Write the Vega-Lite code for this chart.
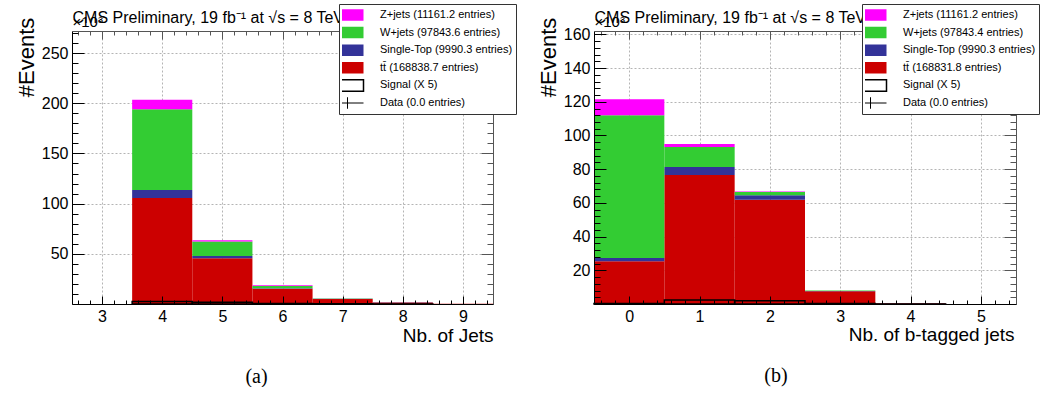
{
  "$schema": "https://vega.github.io/schema/vega-lite/v6.json",
  "background": "white",
  "padding": {"left": 14, "top": 3, "right": 0, "bottom": 0},
  "autosize": {"type": "pad"},
  "config": {
    "font": "Liberation Sans",
    "view": {"stroke": null},
    "axis": {
      "labelFont": "Liberation Sans",
      "titleFont": "Liberation Sans",
      "labelColor": "black",
      "titleColor": "black",
      "tickColor": "black",
      "domainColor": "black",
      "labelFontSize": 16,
      "titleFontWeight": "normal",
      "gridColor": "#b4b4b4",
      "gridDash": [2, 2],
      "labelOverlap": false,
      "labelBound": false,
      "labelFlush": false
    },
    "legend": {
      "orient": "none",
      "title": null,
      "symbolType": "M-1,-0.36H1V0.36H-1Z",
      "symbolSize": 1024,
      "clipHeight": 16,
      "rowPadding": 1.6,
      "labelFont": "Liberation Sans",
      "labelFontSize": 11,
      "labelColor": "black",
      "labelOffset": 27,
      "labelLimit": 300,
      "padding": 3,
      "fillColor": "white",
      "strokeColor": "#333333",
      "symbolStrokeWidth": 0,
      "symbolOpacity": 1
    },
    "title": {"font": "Liberation Serif", "fontSize": 20, "fontWeight": "normal", "color": "black"}
  },
  "datasets": {
    "a_bkg": [
      {"lo": 3.5, "hi": 4.5, "proc": "tt̄ (168838.7 entries)", "ord": 1, "v": 105.5},
      {"lo": 4.5, "hi": 5.5, "proc": "tt̄ (168838.7 entries)", "ord": 1, "v": 45.7},
      {"lo": 5.5, "hi": 6.5, "proc": "tt̄ (168838.7 entries)", "ord": 1, "v": 15.2},
      {"lo": 6.5, "hi": 7.5, "proc": "tt̄ (168838.7 entries)", "ord": 1, "v": 5.0},
      {"lo": 7.5, "hi": 8.5, "proc": "tt̄ (168838.7 entries)", "ord": 1, "v": 1.6},
      {"lo": 8.5, "hi": 9.5, "proc": "tt̄ (168838.7 entries)", "ord": 1, "v": 0.3},
      {"lo": 3.5, "hi": 4.5, "proc": "Single-Top (9990.3 entries)", "ord": 2, "v": 8.0},
      {"lo": 4.5, "hi": 5.5, "proc": "Single-Top (9990.3 entries)", "ord": 2, "v": 2.0},
      {"lo": 5.5, "hi": 6.5, "proc": "Single-Top (9990.3 entries)", "ord": 2, "v": 0.6},
      {"lo": 6.5, "hi": 7.5, "proc": "Single-Top (9990.3 entries)", "ord": 2, "v": 0.2},
      {"lo": 7.5, "hi": 8.5, "proc": "Single-Top (9990.3 entries)", "ord": 2, "v": 0.05},
      {"lo": 3.5, "hi": 4.5, "proc": "W+jets (97843.6 entries)", "ord": 3, "v": 80.5},
      {"lo": 4.5, "hi": 5.5, "proc": "W+jets (97843.6 entries)", "ord": 3, "v": 14.6},
      {"lo": 5.5, "hi": 6.5, "proc": "W+jets (97843.6 entries)", "ord": 3, "v": 2.1},
      {"lo": 6.5, "hi": 7.5, "proc": "W+jets (97843.6 entries)", "ord": 3, "v": 0.3},
      {"lo": 7.5, "hi": 8.5, "proc": "W+jets (97843.6 entries)", "ord": 3, "v": 0.1},
      {"lo": 3.5, "hi": 4.5, "proc": "Z+jets (11161.2 entries)", "ord": 4, "v": 9.5},
      {"lo": 4.5, "hi": 5.5, "proc": "Z+jets (11161.2 entries)", "ord": 4, "v": 1.3},
      {"lo": 5.5, "hi": 6.5, "proc": "Z+jets (11161.2 entries)", "ord": 4, "v": 0.7},
      {"lo": 6.5, "hi": 7.5, "proc": "Z+jets (11161.2 entries)", "ord": 4, "v": 0.1},
      {"lo": 7.5, "hi": 8.5, "proc": "Z+jets (11161.2 entries)", "ord": 4, "v": 0.05}
    ],
    "a_sig": [
      {"lo": 3.5, "hi": 4.5, "sig": 2.5},
      {"lo": 4.5, "hi": 5.5, "sig": 1.7},
      {"lo": 5.5, "hi": 6.5, "sig": 0.6},
      {"lo": 6.5, "hi": 7.5, "sig": 0.2},
      {"lo": 7.5, "hi": 8.5, "sig": 0.05}
    ],
    "b_bkg": [
      {"lo": -0.5, "hi": 0.5, "proc": "tt̄ (168831.8 entries)", "ord": 1, "v": 25.3},
      {"lo": 0.5, "hi": 1.5, "proc": "tt̄ (168831.8 entries)", "ord": 1, "v": 76.6},
      {"lo": 1.5, "hi": 2.5, "proc": "tt̄ (168831.8 entries)", "ord": 1, "v": 61.9},
      {"lo": 2.5, "hi": 3.5, "proc": "tt̄ (168831.8 entries)", "ord": 1, "v": 7.6},
      {"lo": 3.5, "hi": 4.5, "proc": "tt̄ (168831.8 entries)", "ord": 1, "v": 0.5},
      {"lo": -0.5, "hi": 0.5, "proc": "Single-Top (9990.3 entries)", "ord": 2, "v": 2.0},
      {"lo": 0.5, "hi": 1.5, "proc": "Single-Top (9990.3 entries)", "ord": 2, "v": 4.7},
      {"lo": 1.5, "hi": 2.5, "proc": "Single-Top (9990.3 entries)", "ord": 2, "v": 2.6},
      {"lo": 2.5, "hi": 3.5, "proc": "Single-Top (9990.3 entries)", "ord": 2, "v": 0.15},
      {"lo": 3.5, "hi": 4.5, "proc": "Single-Top (9990.3 entries)", "ord": 2, "v": 0.02},
      {"lo": -0.5, "hi": 0.5, "proc": "W+jets (97843.4 entries)", "ord": 3, "v": 84.7},
      {"lo": 0.5, "hi": 1.5, "proc": "W+jets (97843.4 entries)", "ord": 3, "v": 11.9},
      {"lo": 1.5, "hi": 2.5, "proc": "W+jets (97843.4 entries)", "ord": 3, "v": 2.0},
      {"lo": 2.5, "hi": 3.5, "proc": "W+jets (97843.4 entries)", "ord": 3, "v": 0.2},
      {"lo": 3.5, "hi": 4.5, "proc": "W+jets (97843.4 entries)", "ord": 3, "v": 0.03},
      {"lo": -0.5, "hi": 0.5, "proc": "Z+jets (11161.2 entries)", "ord": 4, "v": 9.5},
      {"lo": 0.5, "hi": 1.5, "proc": "Z+jets (11161.2 entries)", "ord": 4, "v": 1.8},
      {"lo": 1.5, "hi": 2.5, "proc": "Z+jets (11161.2 entries)", "ord": 4, "v": 0.3},
      {"lo": 2.5, "hi": 3.5, "proc": "Z+jets (11161.2 entries)", "ord": 4, "v": 0.03}
    ],
    "b_sig": [
      {"lo": -0.5, "hi": 0.5, "sig": 0.3},
      {"lo": 0.5, "hi": 1.5, "sig": 2.4},
      {"lo": 1.5, "hi": 2.5, "sig": 2.0},
      {"lo": 2.5, "hi": 3.5, "sig": 0.3},
      {"lo": 3.5, "hi": 4.5, "sig": 0.05}
    ]
  },
  "bounds": "flush",
  "spacing": 101,
  "resolve": {"scale": {"color": "independent", "x": "independent", "y": "independent"}, "legend": {"color": "independent"}},
  "hconcat": [
    {
      "width": 421,
      "height": 273,
      "title": {"text": "(a)", "orient": "bottom", "anchor": "middle", "frame": "group", "baseline": "top", "offset": 22, "dx": -26},
      "resolve": {"axis": {"x": "independent", "y": "independent"}},
      "layer": [
        {
          "data": {"name": "a_bkg"},
          "transform": [{"stack": "v", "groupby": ["lo"], "sort": [{"field": "ord", "order": "ascending"}], "as": ["y0", "y1"]}],
          "mark": {"type": "bar", "strokeWidth": 0},
          "encoding": {
            "x": {
              "field": "lo", "type": "quantitative",
              "scale": {"domain": [2.5, 9.5], "nice": false, "zero": false},
              "axis": {
                "orient": "bottom",
                "values": [2.6, 2.8, 3, 3.2, 3.4, 3.6, 3.8, 4, 4.2, 4.4, 4.6, 4.8, 5, 5.2, 5.4, 5.6, 5.8, 6, 6.2, 6.4, 6.6, 6.8, 7, 7.2, 7.4, 7.6, 7.8, 8, 8.2, 8.4, 8.6, 8.8, 9, 9.2, 9.4],
                "labelExpr": "abs(datum.value - round(datum.value)) < 0.01 ? format(datum.value, 'd') : ''",
                "tickSize": {"condition": {"test": "abs(datum.value - round(datum.value)) < 0.01", "value": -8}, "value": -4},
                "labelPadding": 12,
                "grid": false,
                "domain": true,
                "title": "Nb. of Jets",
                "titleFontSize": 19,
                "titleX": 421,
                "titleY": 37,
                "titleAlign": "right",
                "titleBaseline": "alphabetic",
                "zindex": 1
              }
            },
            "x2": {"field": "hi"},
            "y": {
              "field": "y0", "type": "quantitative",
              "scale": {"domain": [0, 272], "nice": false, "zero": true},
              "axis": {
                "orient": "left",
                "values": [0, 10, 20, 30, 40, 50, 60, 70, 80, 90, 100, 110, 120, 130, 140, 150, 160, 170, 180, 190, 200, 210, 220, 230, 240, 250, 260, 270],
                "labelExpr": "datum.value % 50 === 0 && datum.value > 0 ? datum.label : ''",
                "tickSize": {"condition": {"test": "datum.value % 50 === 0", "value": -12}, "value": -6},
                "labelPadding": 16,
                "grid": false,
                "domain": true,
                "title": "#Events",
                "titleFontSize": 22,
                "titleX": -39,
                "titleY": 26,
                "titleAngle": -90,
                "titleAlign": "center",
                "titleBaseline": "alphabetic",
                "zindex": 1
              }
            },
            "y2": {"field": "y1"},
            "color": {
              "field": "proc", "type": "nominal",
              "scale": {
                "domain": ["Z+jets (11161.2 entries)", "W+jets (97843.6 entries)", "Single-Top (9990.3 entries)", "tt̄ (168838.7 entries)", "Signal (X 5)", "Data (0.0 entries)"],
                "range": ["#ff00ff", "#33cc33", "#333399", "#cc0000", "#ffffff", "#000000"]
              },
              "legend": {
                "legendX": 267,
                "legendY": -27,
                "encode": {
                  "symbols": {
                    "update": {
                      "shape": {"signal": "datum.value === 'Data (0.0 entries)' ? 'M-1,0H1M0,-0.36V0.36' : 'M-1,-0.36H1V0.36H-1Z'"},
                      "stroke": {"signal": "datum.value === 'Data (0.0 entries)' || datum.value === 'Signal (X 5)' ? 'black' : 'transparent'"},
                      "strokeWidth": {"signal": "datum.value === 'Signal (X 5)' ? 1.5 : 1"}
                    }
                  }
                }
              }
            }
          }
        },
        {
          "data": {"name": "a_sig"},
          "mark": {"type": "bar", "filled": false, "stroke": "black", "strokeWidth": 1.5},
          "encoding": {
            "x": {
              "field": "lo", "type": "quantitative",
              "scale": {"domain": [2.5, 9.5], "nice": false, "zero": false},
              "axis": {
                "orient": "top",
                "values": [2.6, 2.8, 3, 3.2, 3.4, 3.6, 3.8, 4, 4.2, 4.4, 4.6, 4.8, 5, 5.2, 5.4, 5.6, 5.8, 6, 6.2, 6.4, 6.6, 6.8, 7, 7.2, 7.4, 7.6, 7.8, 8, 8.2, 8.4, 8.6, 8.8, 9, 9.2, 9.4],
                "labels": false,
                "tickSize": {"condition": {"test": "abs(datum.value - round(datum.value)) < 0.01", "value": -8}, "value": -4},
                "tickColor": "#555555",
                "grid": true,
                "gridOpacity": {"condition": {"test": "abs(datum.value - round(datum.value)) < 0.01", "value": 1}, "value": 0},
                "domain": true,
                "domainColor": "#555555",
                "title": "CMS Preliminary, 19 fb⁻¹ at √s = 8 TeV",
                "titleFontSize": 16,
                "titleX": 0,
                "titleY": -9,
                "titleAlign": "left",
                "titleBaseline": "alphabetic",
                "zindex": 0
              }
            },
            "x2": {"field": "hi"},
            "y": {
              "field": "sig", "type": "quantitative",
              "scale": {"domain": [0, 272], "nice": false, "zero": true},
              "axis": {
                "orient": "right",
                "values": [0, 10, 20, 30, 40, 50, 60, 70, 80, 90, 100, 110, 120, 130, 140, 150, 160, 170, 180, 190, 200, 210, 220, 230, 240, 250, 260, 270],
                "labels": false,
                "tickSize": {"condition": {"test": "datum.value % 50 === 0", "value": -12}, "value": -6},
                "tickColor": "#555555",
                "grid": true,
                "gridOpacity": {"condition": {"test": "datum.value % 50 === 0 && datum.value > 0", "value": 1}, "value": 0},
                "domain": true,
                "domainColor": "#555555",
                "title": "×10³",
                "titleFontSize": 15,
                "titleAngle": 0,
                "titleX": -421,
                "titleY": -5,
                "titleAlign": "left",
                "titleBaseline": "alphabetic",
                "zindex": 0
              }
            },
            "y2": {"datum": 0}
          }
        }
      ]
    },
    {
      "width": 422,
      "height": 273,
      "title": {"text": "(b)", "orient": "bottom", "anchor": "middle", "frame": "group", "baseline": "top", "offset": 22, "dx": -29},
      "resolve": {"axis": {"x": "independent", "y": "independent"}},
      "layer": [
        {
          "data": {"name": "b_bkg"},
          "transform": [{"stack": "v", "groupby": ["lo"], "sort": [{"field": "ord", "order": "ascending"}], "as": ["y0", "y1"]}],
          "mark": {"type": "bar", "strokeWidth": 0},
          "encoding": {
            "x": {
              "field": "lo", "type": "quantitative",
              "scale": {"domain": [-0.5, 5.5], "nice": false, "zero": false},
              "axis": {
                "orient": "bottom",
                "values": [-0.4, -0.2, 0, 0.2, 0.4, 0.6, 0.8, 1, 1.2, 1.4, 1.6, 1.8, 2, 2.2, 2.4, 2.6, 2.8, 3, 3.2, 3.4, 3.6, 3.8, 4, 4.2, 4.4, 4.6, 4.8, 5, 5.2, 5.4],
                "labelExpr": "abs(datum.value - round(datum.value)) < 0.01 ? format(datum.value, 'd') : ''",
                "tickSize": {"condition": {"test": "abs(datum.value - round(datum.value)) < 0.01", "value": -8}, "value": -4},
                "labelPadding": 12,
                "grid": false,
                "domain": true,
                "title": "Nb. of b-tagged jets",
                "titleFontSize": 19,
                "titleX": 420,
                "titleY": 36,
                "titleAlign": "right",
                "titleBaseline": "alphabetic",
                "zindex": 1
              }
            },
            "x2": {"field": "hi"},
            "y": {
              "field": "y0", "type": "quantitative",
              "scale": {"domain": [0, 162], "nice": false, "zero": true},
              "axis": {
                "orient": "left",
                "values": [0, 4, 8, 12, 16, 20, 24, 28, 32, 36, 40, 44, 48, 52, 56, 60, 64, 68, 72, 76, 80, 84, 88, 92, 96, 100, 104, 108, 112, 116, 120, 124, 128, 132, 136, 140, 144, 148, 152, 156, 160],
                "labelExpr": "datum.value % 20 === 0 && datum.value > 0 ? datum.label : ''",
                "tickSize": {"condition": {"test": "datum.value % 20 === 0", "value": -12}, "value": -6},
                "labelPadding": 16,
                "grid": false,
                "domain": true,
                "title": "#Events",
                "titleFontSize": 22,
                "titleX": -39,
                "titleY": 26,
                "titleAngle": -90,
                "titleAlign": "center",
                "titleBaseline": "alphabetic",
                "zindex": 1
              }
            },
            "y2": {"field": "y1"},
            "color": {
              "field": "proc", "type": "nominal",
              "scale": {
                "domain": ["Z+jets (11161.2 entries)", "W+jets (97843.4 entries)", "Single-Top (9990.3 entries)", "tt̄ (168831.8 entries)", "Signal (X 5)", "Data (0.0 entries)"],
                "range": ["#ff00ff", "#33cc33", "#333399", "#cc0000", "#ffffff", "#000000"]
              },
              "legend": {
                "legendX": 268,
                "legendY": -27,
                "encode": {
                  "symbols": {
                    "update": {
                      "shape": {"signal": "datum.value === 'Data (0.0 entries)' ? 'M-1,0H1M0,-0.36V0.36' : 'M-1,-0.36H1V0.36H-1Z'"},
                      "stroke": {"signal": "datum.value === 'Data (0.0 entries)' || datum.value === 'Signal (X 5)' ? 'black' : 'transparent'"},
                      "strokeWidth": {"signal": "datum.value === 'Signal (X 5)' ? 1.5 : 1"}
                    }
                  }
                }
              }
            }
          }
        },
        {
          "data": {"name": "b_sig"},
          "mark": {"type": "bar", "filled": false, "stroke": "black", "strokeWidth": 1.5},
          "encoding": {
            "x": {
              "field": "lo", "type": "quantitative",
              "scale": {"domain": [-0.5, 5.5], "nice": false, "zero": false},
              "axis": {
                "orient": "top",
                "values": [-0.4, -0.2, 0, 0.2, 0.4, 0.6, 0.8, 1, 1.2, 1.4, 1.6, 1.8, 2, 2.2, 2.4, 2.6, 2.8, 3, 3.2, 3.4, 3.6, 3.8, 4, 4.2, 4.4, 4.6, 4.8, 5, 5.2, 5.4],
                "labels": false,
                "tickSize": {"condition": {"test": "abs(datum.value - round(datum.value)) < 0.01", "value": -8}, "value": -4},
                "tickColor": "#555555",
                "grid": true,
                "gridOpacity": {"condition": {"test": "abs(datum.value - round(datum.value)) < 0.01", "value": 1}, "value": 0},
                "domain": true,
                "domainColor": "#555555",
                "title": "CMS Preliminary, 19 fb⁻¹ at √s = 8 TeV",
                "titleFontSize": 16,
                "titleX": 0,
                "titleY": -9,
                "titleAlign": "left",
                "titleBaseline": "alphabetic",
                "zindex": 0
              }
            },
            "x2": {"field": "hi"},
            "y": {
              "field": "sig", "type": "quantitative",
              "scale": {"domain": [0, 162], "nice": false, "zero": true},
              "axis": {
                "orient": "right",
                "values": [0, 4, 8, 12, 16, 20, 24, 28, 32, 36, 40, 44, 48, 52, 56, 60, 64, 68, 72, 76, 80, 84, 88, 92, 96, 100, 104, 108, 112, 116, 120, 124, 128, 132, 136, 140, 144, 148, 152, 156, 160],
                "labels": false,
                "tickSize": {"condition": {"test": "datum.value % 20 === 0", "value": -12}, "value": -6},
                "tickColor": "#555555",
                "grid": true,
                "gridOpacity": {"condition": {"test": "datum.value % 20 === 0 && datum.value > 0", "value": 1}, "value": 0},
                "domain": true,
                "domainColor": "#555555",
                "title": "×10³",
                "titleFontSize": 15,
                "titleAngle": 0,
                "titleX": -422,
                "titleY": -5,
                "titleAlign": "left",
                "titleBaseline": "alphabetic",
                "zindex": 0
              }
            },
            "y2": {"datum": 0}
          }
        }
      ]
    }
  ]
}
